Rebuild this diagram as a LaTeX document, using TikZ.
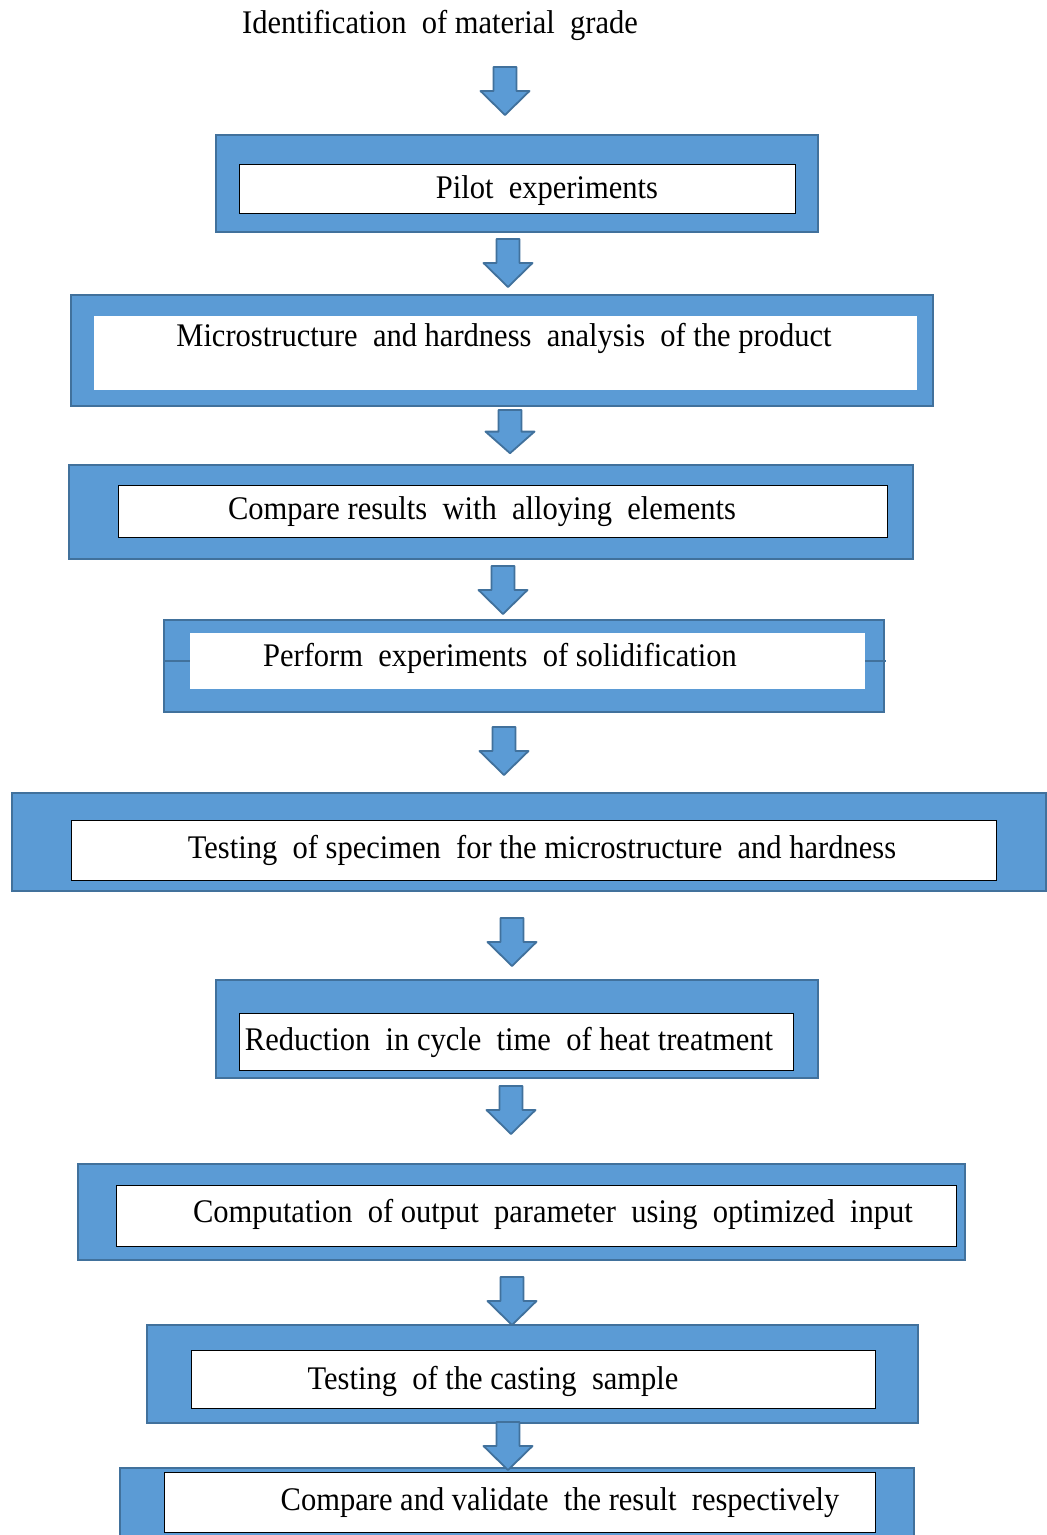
\documentclass[tikz,border=0pt]{standalone}
\usepackage{fontspec}
\setmainfont{Liberation Serif}[FakeStretch=0.925]
\definecolor{boxblue}{HTML}{5B9BD5}
\definecolor{edgeblue}{HTML}{41719C}
\begin{document}
\begin{tikzpicture}[x=1pt,y=-1pt,
  outerbox/.style={draw=edgeblue,fill=boxblue,line width=1.8pt,inner sep=0pt,rectangle},
  innerbox/.style={draw=black,fill=white,line width=1pt,inner sep=0pt,rectangle},
  innerplain/.style={fill=white,inner sep=0pt,rectangle},
  label/.style={inner sep=0pt,font=\fontsize{33}{38}\selectfont},
  blockarrow/.pic={\path[draw=edgeblue,fill=boxblue,line width=1.8pt,line join=round]
     (-11.5,0) -- (11.5,0) -- (11.5,24) -- (24.5,24) -- (0,48) -- (-24.5,24) -- (-11.5,24) -- cycle;}
]
\useasboundingbox[fill=white] (0,0) rectangle (1047,1535);

\node[label] (t0) at (440,25) {Identification\ \ of\ material\ \ grade};

% box 1
\node[outerbox,minimum width=602,minimum height=97] (o1) at (517,183.5) {};
\node[innerbox,minimum width=556,minimum height=49] (i1) at (517,188.5) {};
\node[label] (t1) at (547,191) {Pilot\ \ experiments};
% box 2
\node[outerbox,minimum width=862,minimum height=111] (o2) at (502,350.5) {};
\node[innerplain,minimum width=823,minimum height=74] (i2) at (505.5,353) {};
\node[label] (t2) at (504,338) {Microstructure\ \ and hardness\ \ analysis\ \ of the\ product};
% box 3
\node[outerbox,minimum width=844,minimum height=94] (o3) at (491,512) {};
\node[innerbox,minimum width=769,minimum height=52] (i3) at (502.5,511) {};
\node[label] (t3) at (482,512) {Compare\ results\ \ with\ \ alloying\ \ elements};
% box 4
\node[outerbox,minimum width=720,minimum height=92] (o4) at (524,666) {};
\node[innerplain,minimum width=675,minimum height=56] (i4) at (527.5,661) {};
\draw[edgeblue,line width=1.5pt] (o4.west |- i4.west) -- (i4.west);
\draw[edgeblue,line width=1.5pt] (i4.east) -- (886,661);
\node[label] (t4) at (500,658) {Perform\ \ experiments\ \ of solidification};
% box 5
\node[outerbox,minimum width=1034,minimum height=98] (o5) at (529,842) {};
\node[innerbox,minimum width=925,minimum height=60] (i5) at (533.5,850) {};
\node[label] (t5) at (542,850) {Testing\ \ of specimen\ \ for the\ microstructure\ \ and hardness};
% box 6
\node[outerbox,minimum width=602,minimum height=98] (o6) at (517,1029) {};
\node[innerbox,minimum width=554,minimum height=57] (i6) at (516,1041.5) {};
\node[label] (t6) at (509,1042) {Reduction\ \ in cycle\ \ time\ \ of heat\ treatment};
% box 7
\node[outerbox,minimum width=887,minimum height=96] (o7) at (521.5,1212) {};
\node[innerbox,minimum width=840,minimum height=61] (i7) at (536,1215.5) {};
\node[label] (t7) at (553,1214) {Computation\ \ of output\ \ parameter\ \ using\ \ optimized\ \ input};
% box 8
\node[outerbox,minimum width=771,minimum height=98] (o8) at (532.5,1374) {};
\node[innerbox,minimum width=684,minimum height=58] (i8) at (533,1379) {};
\node[label] (t8) at (493,1381) {Testing\ \ of the\ casting\ \ sample};
% box 9
\node[outerbox,minimum width=794,minimum height=92] (o9) at (517,1514) {};
\node[innerbox,minimum width=711,minimum height=60] (i9) at (519.5,1502) {};
\node[label] (t9) at (560,1503) {Compare\ and\ validate\ \ the\ result\ \ respectively};

% block arrows
\pic at (505,67) {blockarrow};
\pic at (508,239) {blockarrow};
\pic[yscale=0.9] at (510,410) {blockarrow};
\pic at (503,566) {blockarrow};
\pic at (504,727) {blockarrow};
\pic at (512,918) {blockarrow};
\pic at (511,1086) {blockarrow};
\pic at (512,1277) {blockarrow};
\pic at (508,1422) {blockarrow};
\end{tikzpicture}
\end{document}
